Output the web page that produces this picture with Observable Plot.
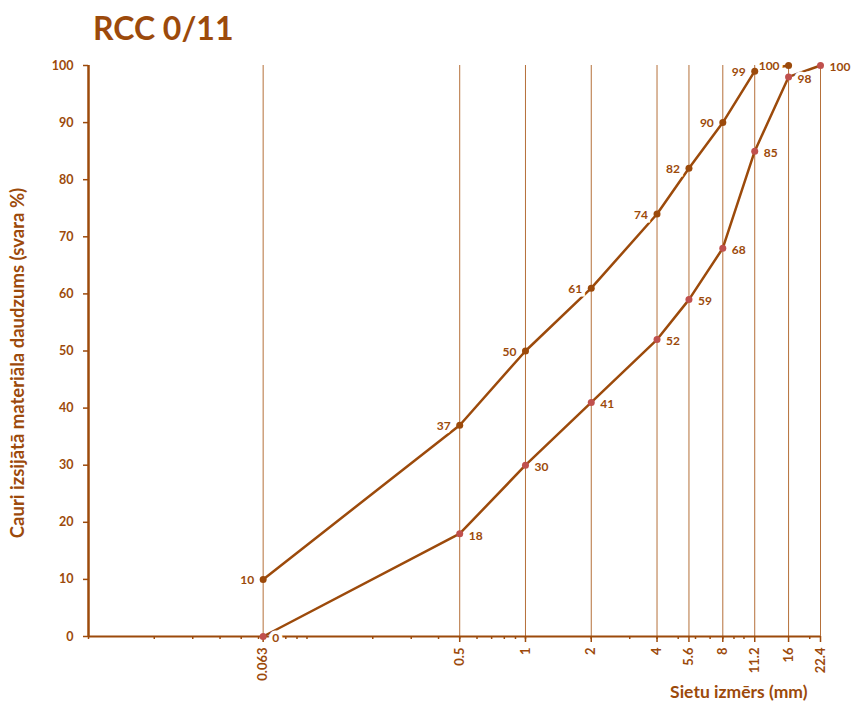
<!DOCTYPE html>
<html>
<head>
<meta charset="utf-8">
<script src="https://cdn.jsdelivr.net/npm/d3@7"></script>
<script src="https://cdn.jsdelivr.net/npm/@observablehq/plot@0.6"></script>
<style>
  body { margin: 0; background: #fff; }
  #title { height: 50px; box-sizing: border-box; padding: 8px 0 0 93px; font: bold 32px Lato, sans-serif; line-height: 40px; color: #9C4A0B; }
</style>
</head>
<body>
<div id="title">RCC 0/11</div>
<div id="chart"></div>
<script>
const sieves = [0.063, 0.5, 1, 2, 4, 5.6, 8, 11.2, 16, 22.4];
const sieveLabels = ["0.063", "0.5", "1", "2", "4", "5.6", "8", "11.2", "16", "22.4"];
const upperPassing = [10, 37, 50, 61, 74, 82, 90, 99, 100, null];
const lowerPassing = [0, 18, 30, 41, 52, 59, 68, 85, 98, 100];
const yTicks = [0, 10, 20, 30, 40, 50, 60, 70, 80, 90, 100];
const minorTicks = [0.01, 0.02, 0.03, 0.04, 0.05, 0.06, 0.07, 0.08, 0.09, 0.1, 0.2, 0.3, 0.4, 0.5, 0.6, 0.7, 0.8, 0.9, 1, 2, 3, 4, 5, 6, 7, 8, 9, 10, 20];
const yLabel = "Cauri izsijātā materiāla daudzums (svara %)";
const xLabel = "Sietu izmērs (mm)";

const brown = "#9C4A0B";
const grid = "#B5703A";
const redDot = "#C0504D";

const upperData = sieves.map((x, i) => ({x, y: upperPassing[i]})).filter(d => d.y != null);
const lowerData = sieves.map((x, i) => ({x, y: lowerPassing[i]})).filter(d => d.y != null);
const tickData = sieves.map((x, i) => ({x, label: sieveLabels[i]}));

const chart = Plot.plot({
  width: 851,
  height: 652,
  marginTop: 15,
  marginBottom: 66,
  marginLeft: 88,
  marginRight: 31,
  x: {type: "log", domain: [0.01, 22.4]},
  y: {domain: [0, 100]},
  style: {fontFamily: "Lato, sans-serif", fontWeight: "bold", color: brown, background: "white", overflow: "visible"},
  marks: [
    Plot.ruleX(sieves, {y1: 0, y2: 100, stroke: grid, strokeWidth: 1}),
    Plot.axisX(minorTicks, {tickSize: 3, tickFormat: () => "", label: null, stroke: brown, strokeWidth: 1.5}),
    Plot.axisX(sieves, {tickSize: 6, tickFormat: () => "", label: null, stroke: brown, strokeWidth: 1.5}),
    Plot.text(tickData, {x: "x", text: "label", frameAnchor: "bottom", rotate: -90, textAnchor: "end", lineAnchor: "middle", dy: 11, fontSize: 13, fontWeight: "bold", fill: brown}),
    Plot.axisY(yTicks, {tickSize: 5, tickPadding: 10, label: null, fontSize: 12.5, stroke: brown, strokeWidth: 1.5}),
    Plot.ruleY([0], {stroke: brown, strokeWidth: 2}),
    Plot.ruleX([0.01], {y1: 0, y2: 100, stroke: brown, strokeWidth: 2.5}),
    Plot.line(upperData, {x: "x", y: "y", stroke: brown, strokeWidth: 2.5}),
    Plot.line(lowerData, {x: "x", y: "y", stroke: brown, strokeWidth: 2.5}),
    Plot.text(upperData, {x: "x", y: "y", text: d => String(d.y), textAnchor: "end", dx: -9, dy: 1, fontSize: 12, fontWeight: "bold", fill: brown, stroke: "white", strokeWidth: 7, strokeLinejoin: "miter", paintOrder: "stroke"}),
    Plot.text(lowerData, {x: "x", y: "y", text: d => String(d.y), textAnchor: "start", dx: 9, dy: 2, fontSize: 12, fontWeight: "bold", fill: brown, stroke: "white", strokeWidth: 7, strokeLinejoin: "miter", paintOrder: "stroke"}),
    Plot.dot(upperData, {x: "x", y: "y", r: 3.5, fill: brown, stroke: "none"}),
    Plot.dot(lowerData, {x: "x", y: "y", r: 3.5, fill: redDot, stroke: "none"}),
    Plot.text([yLabel], {frameAnchor: "left", rotate: -90, textAnchor: "middle", dx: -70, dy: 12, fontSize: 18.5, fontWeight: "bold", fill: brown}),
    Plot.text([xLabel], {frameAnchor: "bottom-right", textAnchor: "end", lineAnchor: "middle", dx: -13, dy: 56, fontSize: 17.5, fontWeight: "bold", fill: brown})
  ]
});
document.getElementById("chart").appendChild(chart);
</script>
</body>
</html>
